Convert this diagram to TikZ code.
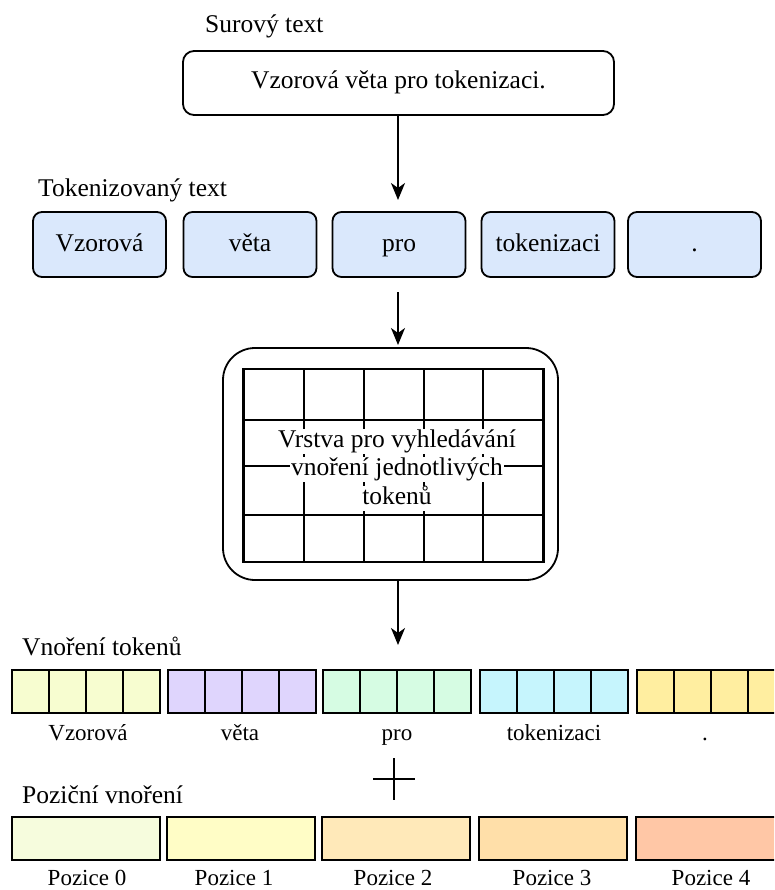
\documentclass[tikz,border=0pt]{standalone}
\usepackage{fontspec}
\setmainfont{Liberation Serif}
\usetikzlibrary{arrows.meta,calc}

\definecolor{tokblue}{HTML}{DAE8FC}
\definecolor{embA}{HTML}{F7FDD0}
\definecolor{embB}{HTML}{DFD5FD}
\definecolor{embC}{HTML}{D6FCE3}
\definecolor{embD}{HTML}{C6F5FD}
\definecolor{embE}{HTML}{FFEEA0}
\definecolor{posA}{HTML}{F6FCDD}
\definecolor{posB}{HTML}{FFFDC6}
\definecolor{posC}{HTML}{FFE9B9}
\definecolor{posD}{HTML}{FFDFA9}
\definecolor{posE}{HTML}{FFC7A6}

\newcommand{\bigtxt}{\fontsize{25.5}{29}\selectfont}
\newcommand{\smalltxt}{\fontsize{23}{27}\selectfont}

\tikzset{
  caption/.style={anchor=base west, inner sep=0pt, font=\bigtxt},
  tokbox/.style={draw=black, line width=1.8pt, fill=tokblue, rounded corners=9pt,
    minimum width=133pt, minimum height=65pt, inner sep=0pt, font=\bigtxt,
    text height=18pt, text depth=3pt},
  cell/.style={draw=black, line width=1.8pt},
  posbox/.style={draw=black, line width=1.8pt},
  sublabel/.style={anchor=base, inner sep=0pt, font=\smalltxt},
  flow/.style={line width=1.8pt, -{Stealth[length=17pt, width=14pt, inset=5pt]}},
  linebg/.style={fill=white, inner sep=1.5pt, anchor=base, font=\bigtxt,
    text height=17pt, text depth=5pt},
}

\begin{document}
\begin{tikzpicture}[x=1pt, y=-1pt]
\useasboundingbox (0,0) rectangle (774,890);
\clip (0,0) rectangle (774,890);

% raw text
\node[caption] (lblraw) at (205,33) {Surový text};
\node[draw=black, line width=1.8pt, rounded corners=11pt, minimum width=431pt,
  minimum height=64pt, inner sep=0pt, font=\bigtxt, text height=17pt, text depth=5pt]
  (raw) at (398.5,83) {Vzorová věta pro tokenizaci.};

% tokenized text
\node[caption] (lbltok) at (38,197) {Tokenizovaný text};
\node[tokbox] (t1) at (99.5,244.5) {Vzorová};
\node[tokbox] (t2) at (250,244.5) {věta};
\node[tokbox] (t3) at (399,244.5) {pro};
\node[tokbox] (t4) at (548,244.5) {tokenizaci};
\node[tokbox] (t5) at (694.5,244.5) {.};

\coordinate (a1end) at (398,200);
\draw[flow] (raw.south -| a1end) -- (a1end);

% embedding lookup layer
\node[draw=black, line width=1.8pt, rounded corners=32pt, minimum width=335pt,
  minimum height=232pt, inner sep=0pt] (layer) at (390.5,464) {};
\coordinate (a2start) at (398,292);
\coordinate (a2end) at (398,345);
\draw[flow] (a2start) -- (a2end);

\foreach \xa in {244,304,364,424,483,543}
  \draw[cell] (\xa,369) -- (\xa,562);
\foreach \ya in {369,420,466,515,562}
  \draw[cell] (244,\ya) -- (543,\ya);
\draw[cell] (243.1,369) rectangle (543.9,562);

\node[linebg] (ln1) at (397,447) {Vrstva pro vyhledávání};
\node[linebg] (ln2) at (397,475) {vnoření jednotlivých};
\node[linebg] (ln3) at (397,504) {tokenů};

\coordinate (a3end) at (398,645);
\draw[flow] (layer.south -| a3end) -- (a3end);

% token embeddings
\node[caption] (lblemb) at (22,655) {Vnoření tokenů};
\foreach \xs/\col/\nm in {12/embA/ea,168/embB/eb,323/embC/ec,480/embD/ed,637/embE/ee}{
  \fill[\col] (\xs,670) rectangle ++(148,43);
  \foreach \k in {1,2,3}
    \draw[cell] (\xs+37*\k,670) -- (\xs+37*\k,713);
  \draw[cell] (\xs,670) rectangle ++(148,43);
  \coordinate (\nm) at (\xs+74,691.5);
}
\node[sublabel] (w1) at (88,740) {Vzorová};
\node[sublabel] (w2) at (240,740) {věta};
\node[sublabel] (w3) at (397,740) {pro};
\node[sublabel] (w4) at (554,740) {tokenizaci};
\node[sublabel] (w5) at (705,740) {.};

% plus sign
\coordinate (plus) at (394,779);
\draw[line width=1.5pt] ($(plus)+(-21,0)$) -- ($(plus)+(21,0)$);
\draw[line width=1.5pt] ($(plus)+(0,-21)$) -- ($(plus)+(0,21)$);

% positional embeddings
\node[caption] (lblpos) at (22,803) {Poziční vnoření};
\foreach \xs/\col/\nm in {12/posA/pa,167/posB/pb,322/posC/pc,479/posD/pd,636/posE/pe}{
  \draw[posbox, fill=\col] (\xs,817) rectangle ++(148,43);
}
\node[sublabel] (p0) at (87,885) {Pozice 0};
\node[sublabel] (p1) at (234,885) {Pozice 1};
\node[sublabel] (p2) at (393,885) {Pozice 2};
\node[sublabel] (p3) at (552,885) {Pozice 3};
\node[sublabel] (p4) at (711,885) {Pozice 4};
\end{tikzpicture}
\end{document}
